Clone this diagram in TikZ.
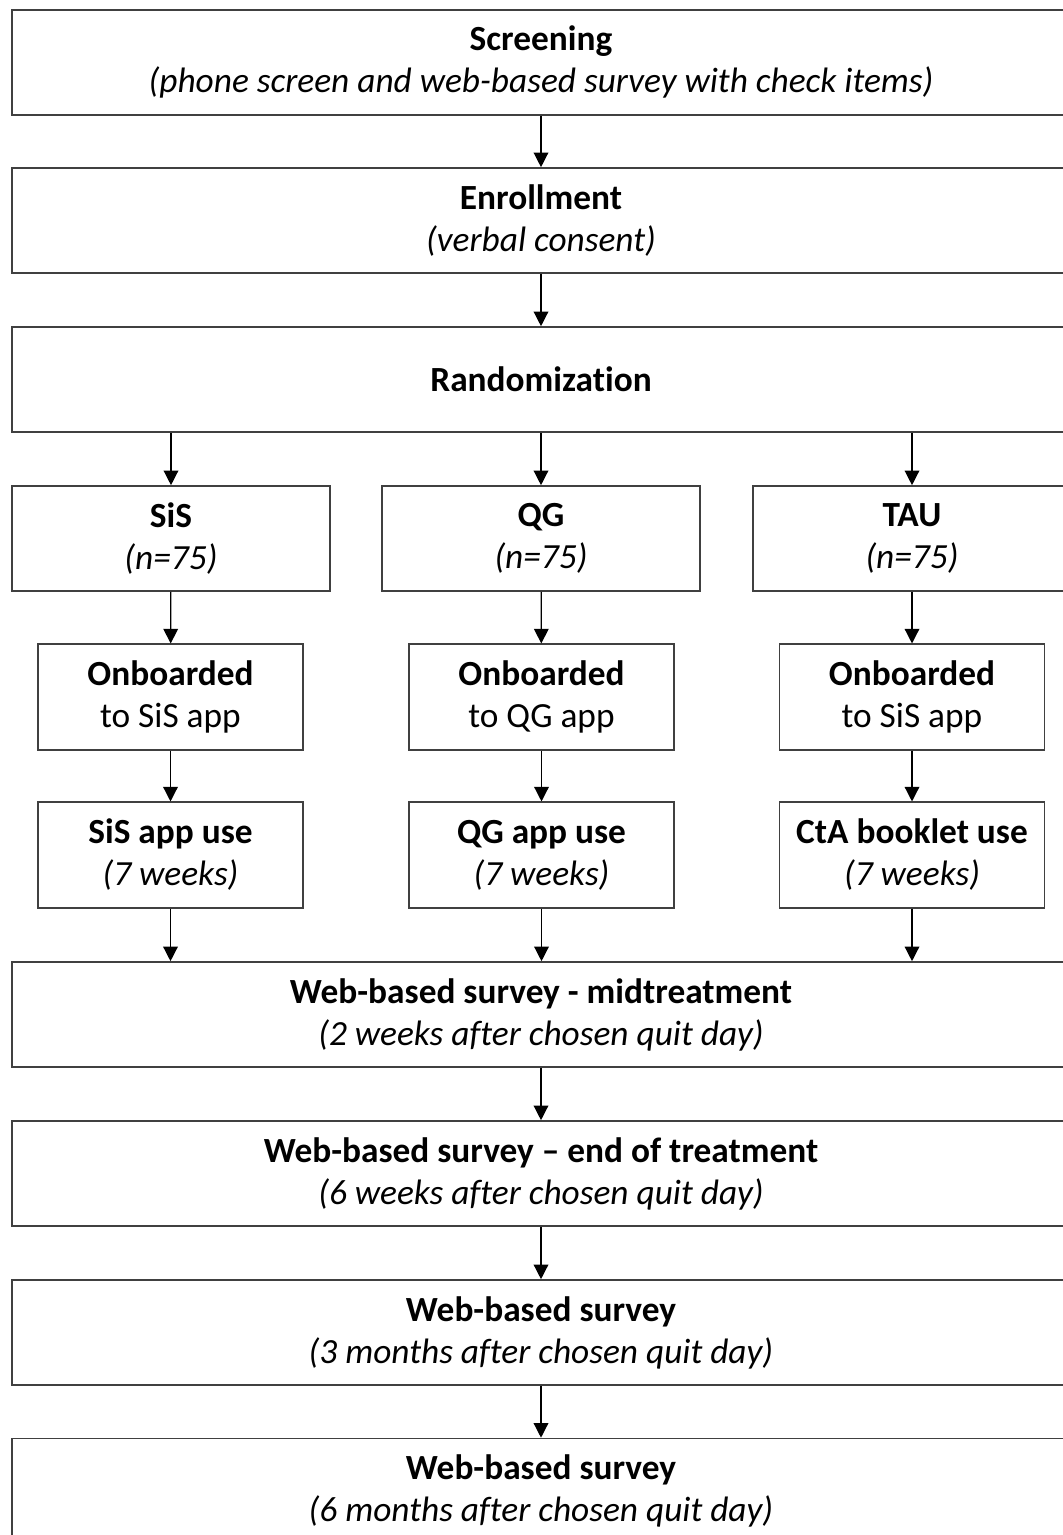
\documentclass[tikz,border=0pt]{standalone}
\usepackage{fontspec}
\setmainfont{Carlito}[Ligatures=NoCommon]
\usetikzlibrary{arrows.meta}
\newcommand{\stage}[2]{\textbf{#1}\\ \textit{#2}}
\newcommand{\onboard}[1]{\textbf{Onboarded}\\ to #1 app}

\begin{document}
\begin{tikzpicture}[
      x=0.75pt, y=-0.75pt,
      every node/.style={font=\fontsize{26.5}{31.5}\selectfont},
      box/.style={draw=black!75, line width=1.2pt, inner sep=0pt, align=center},
      wide/.style={box, minimum width=793.5pt, minimum height=78.75pt},
      arm/.style={box, minimum width=238.5pt, minimum height=78.75pt},
      inner/.style={box, minimum width=198.75pt, minimum height=79.1pt},
      flow/.style={line width=1pt, -{Triangle[width=11pt,length=11pt]}}
    ]
      \useasboundingbox (0,0) rectangle (1063,1535);
      % main line
      \node[wide] (screen) at (541,62.25) {\stage{Screening}{(phone screen and web-based survey with check items)}};
      \node[wide] (enrol) at (541,220.5) {\stage{Enrollment}{(verbal consent)}};
      \node[wide] (rand) at (541,379.5) {\textbf{Randomization}};
      % arms
      \node[arm] (sis) at (171,538.5) {\stage{SiS}{(n=75)}};
      \node[arm] (qg) at (541,538.5) {\stage{QG}{(n=75)}};
      \node[arm] (tau) at (912,538.5) {\stage{TAU}{(n=75)}};
      \node[inner] (onsis) at (170.5,697) {\onboard{SiS}};
      \node[inner] (onqg) at (541.5,697) {\onboard{QG}};
      \node[inner] (ontau) at (912,697) {\onboard{SiS}};
      \node[inner] (usesis) at (170.5,855) {\stage{SiS app use}{(7 weeks)}};
      \node[inner] (useqg) at (541.5,855) {\stage{QG app use}{(7 weeks)}};
      \node[inner] (usetau) at (912,855) {\stage{CtA booklet use}{(7 weeks)}};
      % follow-up
      \node[wide] (mid) at (541,1014.5) {\stage{Web-based survey - midtreatment}{(2 weeks after chosen quit day)}};
      \node[wide] (eot) at (541,1173.5) {\stage{Web-based survey -- end of treatment}{(6 weeks after chosen quit day)}};
      \node[wide] (mthree) at (541,1332.5) {\stage{Web-based survey}{(3 months after chosen quit day)}};
      \node[wide] (msix) at (541,1491) {\stage{Web-based survey}{(6 months after chosen quit day)}};

      \draw[flow] (screen) -- (enrol);
      \draw[flow] (enrol) -- (rand);
      \foreach \a/\b/\c in {sis/onsis/usesis, qg/onqg/useqg, tau/ontau/usetau} {
        \draw[flow] (\a |- rand.south) -- (\a);
        \draw[flow] (\a) -- (\b);
        \draw[flow] (\b) -- (\c);
        \draw[flow] (\c) -- (\c |- mid.north);
      }
      \draw[flow] (mid) -- (eot);
      \draw[flow] (eot) -- (mthree);
      \draw[flow] (mthree) -- (msix);
    \end{tikzpicture}
\end{document}
